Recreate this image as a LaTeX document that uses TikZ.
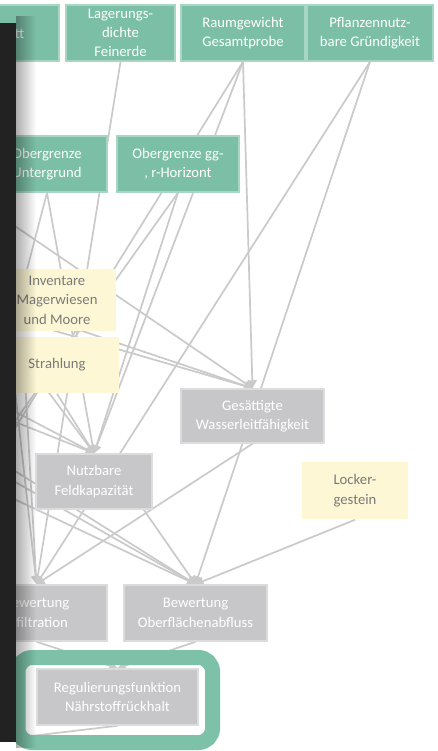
\documentclass[tikz,border=0pt]{standalone}
\usepackage{fontspec}
\setmainfont{Carlito}
\usetikzlibrary{arrows.meta}
\pgfdeclarelayer{bg}
\pgfsetlayers{bg,main}

\definecolor{boxgreen}{HTML}{7CBFA7}
\definecolor{greenedge}{HTML}{A8D6C4}
\definecolor{boxgray}{HTML}{C7C7C9}
\definecolor{grayedge}{HTML}{DCDCDC}
\definecolor{boxyellow}{HTML}{FEF7D5}
\definecolor{yellowtext}{HTML}{7A7A7A}
\definecolor{linkgray}{HTML}{CACACA}
\definecolor{ringgreen}{HTML}{7DC2A8}
\definecolor{panel}{HTML}{222222}

\begin{document}
\begin{tikzpicture}[x=1pt,y=-1pt,
  box/.style={rectangle, minimum height=56pt, inner sep=0pt, align=center,
    font=\fontsize{14.7}{19.5}\selectfont, line width=1.5pt},
  greenbox/.style={box, fill=boxgreen, draw=greenedge, text=white},
  graybox/.style={box, fill=boxgray, draw=grayedge, text=white},
  yellowbox/.style={box, fill=boxyellow, text=yellowtext},
  link/.style={draw=linkgray, line width=1.7pt},
  arr/.style={link, -{Triangle[width=9pt,length=8pt]}}]

\useasboundingbox (0,0) rectangle (437,751);

% ---- boxes ----
\node[greenbox, minimum width=110pt] (skel) at (4,33) {Skelett};
\node[greenbox, minimum width=109pt, font=\fontsize{14.7}{18.8}\selectfont] (lager) at (120.5,33) {Lagerungs-\\dichte\\Feinerde};
\node[greenbox, minimum width=124pt] (raum) at (243,33) {Raumgewicht\\Gesamtprobe};
\node[greenbox, minimum width=126pt] (pflanz) at (370,33) {Pflanzennutz-\\bare Gründigkeit};
\node[greenbox, minimum width=120pt] (obu) at (47,164) {Obergrenze\\Untergrund};
\node[greenbox, minimum width=122pt] (obgg) at (178,164) {Obergrenze gg-\\, r-Horizont};
\node[yellowbox, minimum width=118pt, minimum height=62pt] (inv) at (57,300) {Inventare\\Magerwiesen\\und Moore};
\node[yellowbox, minimum width=124pt] (strahl) at (57,365) {Strahlung};
\node[graybox, minimum width=143pt, minimum height=54pt] (wass) at (252.5,416) {Gesättigte\\Wasserleitfähigkeit};
\node[graybox, minimum width=116pt, minimum height=55pt] (nutz) at (94,481.5) {Nutzbare\\Feldkapazität};
\node[yellowbox, minimum width=106pt, minimum height=57pt] (lock) at (355,490.5) {Locker-\\gestein};
\node[graybox, minimum width=141pt] (infil) at (36.5,613) {Bewertung\\Infiltration};
\node[graybox, minimum width=143pt] (ober) at (195.5,613) {Bewertung\\Oberflächenabfluss};
\node[graybox, minimum width=161pt] (regul) at (117.5,697) {Regulierungsfunktion\\Nährstoffrückhalt};

% ---- loose ends of links running off to the left ----
\coordinate (l1) at (-13,207);
\coordinate (l2) at (-10,300);
\coordinate (l3) at (-10,312);
\coordinate (l4) at (-20,393);
\coordinate (l5) at (-20,408);
\coordinate (l6) at (-20,449);
\coordinate (l7) at (-20,462);
\coordinate (l8) at (-20,483);
\coordinate (l9) at (5,300);
\coordinate (l10) at (25,380);
\coordinate (l11) at (-20,300);
\coordinate (h1) at (-67,560);
\coordinate (h2) at (-20,470);
\coordinate (h3) at (-20,742);
\coordinate (h5) at (-20,450);

% ---- page background and links (behind the boxes) ----
\begin{pgfonlayer}{bg}
\fill[white] (0,0) rectangle (437,751);
\clip (0,0) rectangle (437,751);
% into Gesättigte Wasserleitfähigkeit
\draw[arr] (raum.south) -- (wass.north);
\draw[arr] (l1) -- (wass.north);
\draw[arr] (l2) -- (wass.north);
\draw[arr] (l3) -- (wass.north);
% into Nutzbare Feldkapazität
\draw[arr] (raum.south) -- (nutz.north);
\draw[arr] (obgg.south) -- (nutz.north);
\draw[arr] (obu.south) -- (nutz.north);
\draw[arr] (strahl.south) -- (nutz.north);
\draw[arr] (l11) -- (nutz.north);
\draw[arr] (l4) -- (nutz.north);
\draw[arr] (l5) -- (nutz.north);
% into Bewertung Infiltration
\draw[arr] (lager.south) -- (infil.north);
\draw[arr] (pflanz.south) -- (infil.north);
\draw[arr] (wass.south) -- (infil.north);
\draw[arr] (l9) -- (infil.north);
\draw[arr] (l10) -- (infil.north);
% into Bewertung Oberflächenabfluss
\draw[arr] (pflanz.south) -- (ober.north);
\draw[arr] (lock.south) -- (ober.north);
\draw[arr] ([xshift=-9pt]nutz.south east) -- (ober.north);
\draw[arr] (l6) -- (ober.north);
\draw[arr] (l7) -- (ober.north);
\draw[arr] (l8) -- (ober.north);
% links leaving to the left
\draw[link] (raum.south) -- (h1);
\draw[link] (obgg.south) -- (h2);
\draw[link] (obu.south) -- (h5);
\draw[link] (regul.south) -- (h3);
% into Regulierungsfunktion
\draw[arr] (infil.south) -- (regul.north);
\draw[arr] (ober.south) -- (regul.north);
\end{pgfonlayer}

% ---- highlight ring ----
\draw[ringgreen, line width=15pt, rounded corners=14pt] (18,657.5) rectangle (212.5,742.5);

% ---- dark side panel with soft shadow ----
\foreach \i in {0,...,19}{
  \fill[black, opacity={0.32*(1-\i/20)}] ({16+\i},16) rectangle ({17+\i},748);
}
\fill[panel] (0,23) rectangle (16,742);
\end{tikzpicture}
\end{document}
